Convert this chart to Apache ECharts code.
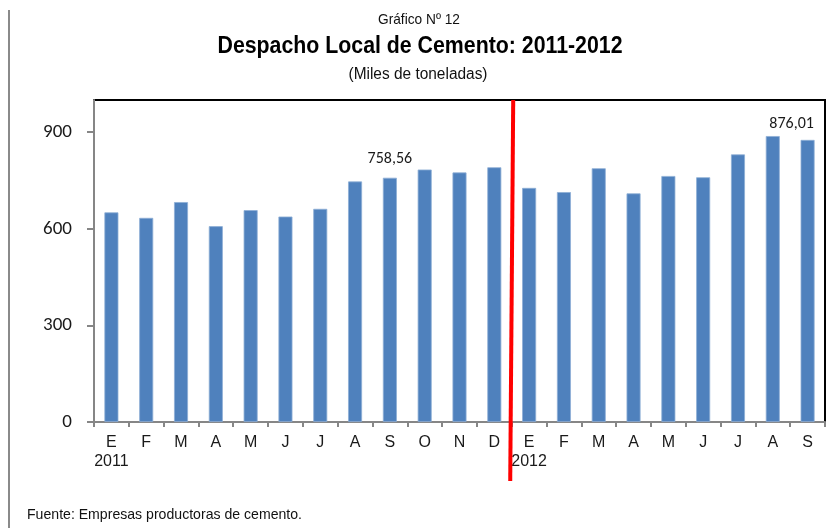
<!DOCTYPE html>
<html>
<head>
<meta charset="utf-8">
<script src="https://cdn.jsdelivr.net/npm/echarts@6/dist/echarts.min.js"></script>
<style>
html,body{margin:0;padding:0;background:#fff;}
#chart{width:839px;height:528px;}
</style>
</head>
<body>
<div id="chart"></div>
<script>
// ---- data ----
const months = ['E','F','M','A','M','J','J','A','S','O','N','D','E','F','M','A','M','J','J','A','S'];
const yearLabels = {0:'2011', 12:'2012'};
const values = [651, 634, 683, 608, 658, 638, 662, 747, 758.56, 784, 775, 791,
                727, 714, 788, 710, 764, 760, 831, 888, 876.01];
const labeledIdx = [8, 20];
const yTicks = [0, 300, 600, 900];
const titleText = 'Despacho Local de Cemento: 2011-2012';
const preTitle = 'Gráfico Nº 12';
const subTitle = '(Miles de toneladas)';
const sourceText = 'Fuente: Empresas productoras de cemento.';

const sans = '"Liberation Sans", Arial, sans-serif';
const calib = 'Carlito, Lato, "Open Sans", sans-serif';

// horizontal condensing to imitate a narrow typeface
const ctx = document.createElement('canvas').getContext('2d');
function fitScale(text, font, targetW) {
  ctx.font = font;
  return targetW / ctx.measureText(text).width;
}
function narrowText(text, font, x, y, targetW, align, fill) {
  return {
    type: 'text', x: x, y: y, scaleX: fitScale(text, font, targetW), scaleY: 1,
    style: {text: text, font: font, fill: fill, textAlign: align, textVerticalAlign: 'middle'}
  };
}

const chart = echarts.init(document.getElementById('chart'), null, {renderer:'canvas'});

const seriesData = values.map((v, i) => {
  const item = {value: v};
  if (labeledIdx.includes(i)) {
    item.label = {
      show: true, position: 'top', distance: 11,
      formatter: p => p.value.toFixed(2).replace('.', ','),
      fontFamily: calib, fontSize: 16, color: '#1a1a1a',
      offset: i === 20 ? [-16, 3] : [0, 0]
    };
  }
  return item;
});

chart.setOption({
  animation: false,
  grid: {left: 94, right: 14, top: 100, bottom: 106, show: true, borderColor: '#000', borderWidth: 2, backgroundColor: 'transparent'},
  xAxis: {
    type: 'category',
    data: months,
    axisLine: {lineStyle: {color: '#868686', width: 2}},
    axisTick: {show: true, length: 5, lineStyle: {color: '#868686', width: 2}},
    axisLabel: {
      interval: 0, margin: 11, lineHeight: 19,
      fontFamily: sans, fontSize: 16, color: '#1a1a1a',
      formatter: (v, i) => yearLabels[i] ? v + '\n' + yearLabels[i] : v
    },
    splitLine: {show: false}
  },
  yAxis: {
    type: 'value', min: 0, max: 1000,
    axisLine: {show: true, lineStyle: {color: '#868686', width: 2}},
    axisTick: {show: true, length: 7, customValues: yTicks, lineStyle: {color: '#868686', width: 2}},
    axisLabel: {customValues: yTicks, margin: 22, fontFamily: calib, fontSize: 19, color: '#1a1a1a'},
    splitLine: {show: false}
  },
  series: [{
    type: 'bar',
    data: seriesData,
    barWidth: 14,
    itemStyle: {color: '#4F81BD', borderColor: '#8EAED6', borderWidth: 0.8}
  }],
  graphic: [
    {type: 'line', shape: {x1: 9, y1: 10, x2: 839, y2: 10}, style: {stroke: '#8a8a8a', lineWidth: 2}},
    {type: 'line', shape: {x1: 9, y1: 10, x2: 9, y2: 528}, style: {stroke: '#8a8a8a', lineWidth: 2}},
    narrowText(preTitle, '15px ' + sans, 419, 20, 82, 'center', '#111'),
    narrowText(titleText, 'bold 23px ' + sans, 420, 47, 405, 'center', '#000'),
    narrowText(subTitle, '16px ' + sans, 418, 75, 139, 'center', '#111'),
    narrowText(sourceText, '15px ' + sans, 27, 515, 275, 'left', '#111')
  ]
});

// red separator between D (2011) and E (2012)
const xa = chart.convertToPixel({xAxisIndex: 0}, 11);
const xb = chart.convertToPixel({xAxisIndex: 0}, 12);
const mid = (xa + xb) / 2;
chart.setOption({
  graphic: [
    {type: 'line', z: 100, shape: {x1: mid + 1.5, y1: 100, x2: mid - 1.5, y2: 481}, style: {stroke: '#ff0000', lineWidth: 4}}
  ]
});
</script>
</body>
</html>
